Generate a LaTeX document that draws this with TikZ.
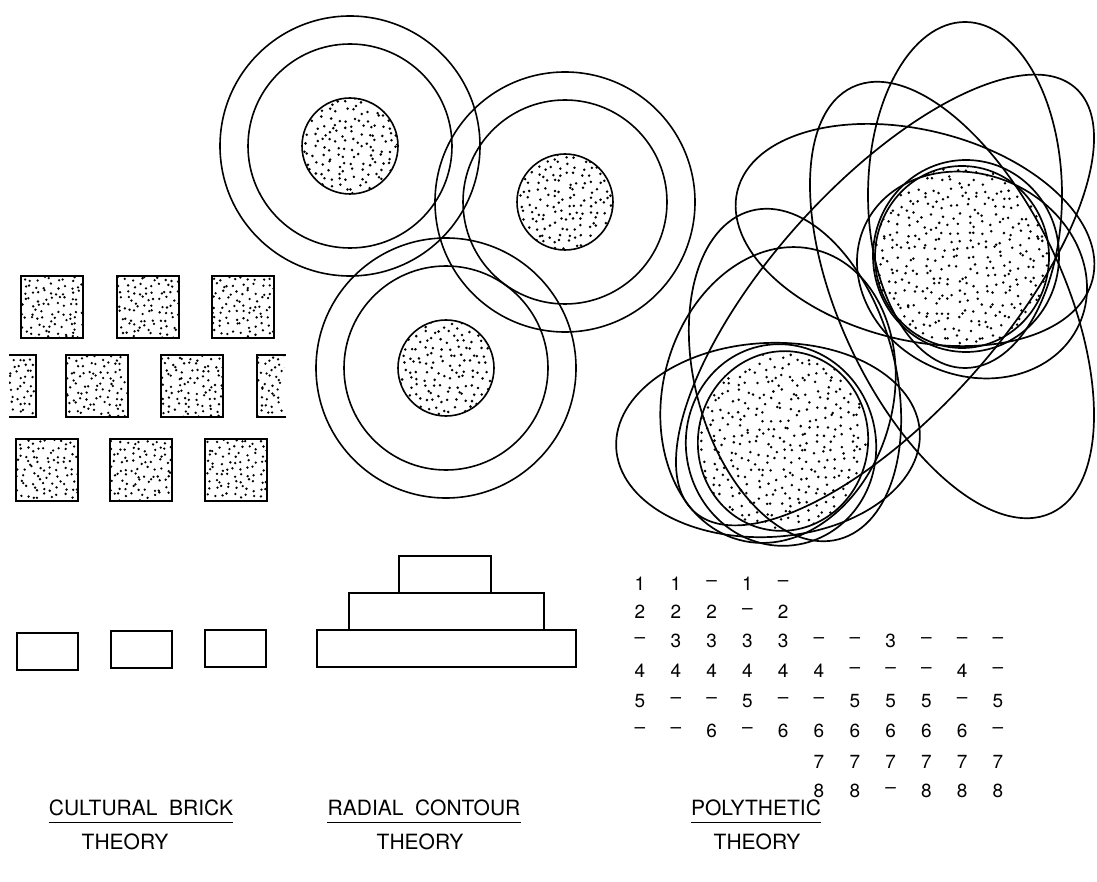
\documentclass[tikz,border=0pt]{standalone}
\usepackage{fontspec}
\setmainfont{TeX Gyre Heros}
% #1..#4 box, #5 spacing, #6 dot radius
\newcommand\stip[6]{%
  \pgfmathtruncatemacro\stipni{((#3)-(#1))/(#5)}%
  \pgfmathtruncatemacro\stipnj{((#4)-(#2))/(#5)}%
  \foreach \i in {0,...,\stipni}{\foreach \j in {0,...,\stipnj}{%
    \fill ({(#1)+(#5)*(\i+0.5+0.42*rand)},{(#2)+(#5)*(\j+0.5+0.42*rand)}) circle (#6);}}}
\newcommand\stipbox[4]{\begin{scope}\clip (#1,#2) rectangle (#3,#4);\stip{#1}{#2}{#3}{#4}{6.6}{1.3}\end{scope}}
% cx, cy, rx, ry, rotation, spacing
\newcommand\stipell[6]{\begin{scope}\clip[rotate around={#5:(#1,#2)}] (#1,#2) ellipse [x radius=#3, y radius=#4];%
  \stip{(#1)-(#3)-6}{(#2)-(#4)-6}{(#1)+(#3)+6}{(#2)+(#4)+6}{#6}{1.4}\end{scope}}
\begin{document}
\begin{tikzpicture}[x=1pt,y=-1pt,
  outline/.style={line width=1.6pt},
  brick/.style={line width=2.4pt},
  loop/.style={line width=1.7pt},
  gridtext/.style={font=\fontsize{19}{19}\selectfont, inner sep=0pt},
  title/.style={font=\fontsize{21}{21}\selectfont, inner sep=0pt},
  uline/.style={line width=1.1pt}]
\useasboundingbox (0,0) rectangle (1097,882);
\fill[white] (0,0) rectangle (1097,882);
\pgfmathsetseed{4242}

% ---------------- cultural bricks ----------------
\foreach \x/\y in {21/276,117/276,212/276,66/355,161/355,16/439,110/439,205/439}{
  \stipbox{\x}{\y}{\x+62}{\y+62}
  \draw[brick] (\x,\y) rectangle ++(62,62);}
\stipbox{9}{355}{36}{417}
\draw[brick] (9,355) -- (36,355) -- (36,417) -- (9,417);
\stipbox{257}{355}{284}{417}
\draw[brick] (286,355) -- (257,355) -- (257,417) -- (286,417);
\foreach \x/\y in {17/633,111/631,205/630}{
  \draw[brick] (\x,\y) rectangle ++(61,37);}

% ---------------- radial contour ----------------
\foreach \cx/\cy in {350/146,565/202,446/368}{
  \stipell{\cx}{\cy}{48}{48}{0}{7.6}
  \draw[outline] (\cx,\cy) circle (48);
  \draw[outline] (\cx,\cy) circle (102);
  \draw[outline] (\cx,\cy) circle (130);}
\draw[outline] (317,630) rectangle (576,667);
\draw[outline] (349,593) rectangle (544,630);
\draw[outline] (399,556) rectangle (491,593);

% ---------------- polythetic ----------------
\stipell{962}{257}{87}{91}{0}{8.6}
\draw[loop] (962,257) ellipse [x radius=87, y radius=91];
\stipell{783}{441}{85}{90}{-10}{8.6}
\draw[loop, rotate around={-10:(783,441)}] (783,441) ellipse [x radius=85, y radius=90];
\foreach \cx/\cy/\a/\b/\r in {
  965/195/97/173/0,
  952/300/235/112/-65,
  885/300/285/115/48,
  915/235/183/105/-14,
  768/440/152/97/3,
  778/395/115/150/-15,
  795/375/170/100/-75,
  966/256/93/96/0,
  972/275/118/100/-25,
  781/445/95/101/10}{
  \draw[loop, rotate around={\r:(\cx,\cy)}] (\cx,\cy) ellipse [x radius=\a, y radius=\b];}

% ---------------- trait grid ----------------
\foreach \t [count=\c] in {1,1,–,1,–}{\node[gridtext] (ra\c) at ({640+35.8*(\c-1)},584) {\t};}
\foreach \t [count=\c] in {2,2,2,–,2}{\node[gridtext] (rb\c) at ({640+35.8*(\c-1)},612) {\t};}
\foreach \t [count=\c] in {–,3,3,3,3,–,–,3,–,–,–}{\node[gridtext] (rc\c) at ({640+35.8*(\c-1)},641) {\t};}
\foreach \t [count=\c] in {4,4,4,4,4,4,–,–,–,4,–}{\node[gridtext] (rd\c) at ({640+35.8*(\c-1)},671) {\t};}
\foreach \t [count=\c] in {5,–,–,5,–,–,5,5,5,–,5}{\node[gridtext] (re\c) at ({640+35.8*(\c-1)},701) {\t};}
\foreach \t [count=\c] in {–,–,6,–,6,6,6,6,6,6,–}{\node[gridtext] (rf\c) at ({640+35.8*(\c-1)},731) {\t};}
\foreach \t [count=\c] in {7,7,7,7,7,7}{\node[gridtext] (rg\c) at ({819+35.8*(\c-1)},762) {\t};}
\foreach \t [count=\c] in {8,8,–,8,8,8}{\node[gridtext] (rh\c) at ({819+35.8*(\c-1)},791) {\t};}

% ---------------- titles ----------------
\node[title] (cb) at (141,808) {CULTURAL\ \ BRICK};
\node[title] (cbt) at (125,842) {THEORY};
\node[title] (rc) at (424,808) {RADIAL\ \ CONTOUR};
\node[title] (rct) at (420,842) {THEORY};
\node[title] (pt) at (756,808) {POLYTHETIC};
\node[title] (ptt) at (757,842) {THEORY};
\foreach \n in {cb,rc,pt}{\draw[uline] ([yshift=-6pt]\n.south west) -- ([yshift=-6pt]\n.south east);}
\end{tikzpicture}
\end{document}
